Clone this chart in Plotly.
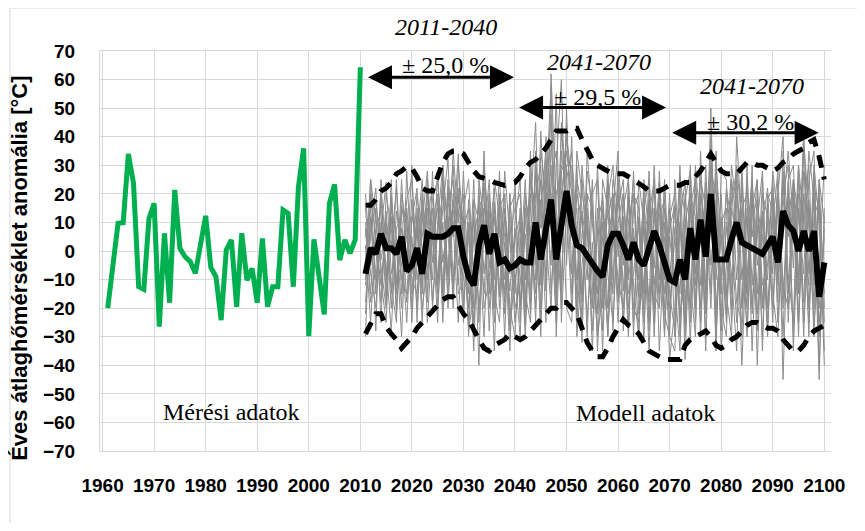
import plotly.graph_objects as go

# ---------------- data ----------------
obs_years = list(range(1961, 2011))
obs_values = [-20, -5, 9.7, 9.9, 34, 23.7, -12.5, -13.4, 11.4, 16.7,
              -26.5, 6.2, -18.1, 21.4, 0.9, -2, -3.7, -7.8, 2, 12.3,
              -5.8, -9, -24.2, 0.4, 3.9, -19.5, 6.2, -10.2, -6.1, -18.1,
              4.4, -19.5, -12.5, -12.5, 14.4, 13.2, -12.5, 22.5, 35.9, -29.8,
              4.1, -8, -22.2, 16.7, 23.3, -3.2, 3.9, -0.8, 3.9, 64.3]

model_years = list(range(2011, 2101))

model_mean = [-8, 1, -1, 6, 1, 1, -1, 5, -7, -5,
              1, -8, 6, 5, 5, 5, 6, 8, 8, -2,
              -9, -12, 2, 9, -1, 6, -4, -3, -6, -5,
              -3, -4, -4, 10, -3, 7, 18, -3, 9, 21,
              9, 2, 1, -2, -4, -7, -9, 2, 6, 6,
              2, -3, 3, -3, -5, 1, 7, 2, -4, -10,
              -11, -3, -10, 8, -3, 11, -2, 20, -3, -3,
              -3, 4, 10, 3, 2, 1, 0, -1, 2, 5,
              -4, 14, 9, 7, 0, 7, 0, 7, -16, -4]

model_upper = [16, 16, 18, 21, 22, 24, 27, 28, 29.5, 29,
               26, 22, 21, 21, 26, 31, 34, 35, 35, 34,
               31, 28, 26, 25.5, 25, 24, 23.5, 23, 23.5, 24,
               26, 29, 31, 32, 34, 36, 39, 42, 42, 42,
               43, 43, 39, 35, 32, 30, 29, 28, 27, 27,
               27, 26, 25, 24, 22.5, 21, 21, 21, 22, 23,
               23, 23, 24, 24, 26, 28, 31, 34, 31, 28,
               27, 27, 27, 29, 31, 31, 30, 30, 29, 28,
               29, 31, 32, 34, 35, 36, 38, 39, 33, 25]

model_lower = [-29, -25, -22, -22, -26.5, -29, -31, -34, -32, -30,
               -27, -25, -23, -21, -19, -17, -16, -16, -19, -22,
               -24, -28, -31, -34, -35, -33, -32, -31, -29, -30,
               -31, -30, -28, -26, -24, -22, -20, -20, -18, -18,
               -20, -22, -27, -32, -35, -37, -37, -34, -30, -27,
               -24, -26, -27, -29, -32, -35, -36, -37, -38, -38,
               -38, -38, -33, -31, -30, -29, -28, -30, -33, -34,
               -33, -31, -30, -28, -26, -25, -25, -26, -27, -27,
               -28, -31, -33, -35, -35, -33, -30, -28, -27, -26]

member_01 = [-12, 5, 18, -3, 9, -20, 14, 2, -25, 11,
             22, -8, 15, 4, -12, 26, 8, 30, -5, 12,
             -28, -15, 10, 24, -6, 17, -20, 3, -14, 8,
             -18, 6, -22, 35, -9, 20, 58, -12, 15, 40,
             25, -10, 14, -24, 3, -30, -15, 18, 30, -2,
             12, -20, 8, -16, 21, -28, 15, 4, -22, -30,
             -35, 10, -26, 25, -8, 30, -14, 50, -20, 6,
             -25, 18, 28, -10, 12, -22, 9, -30, 20, 14,
             -18, 35, 5, 22, -12, 43, -8, 20, -40, 12]
member_02 = [8, -18, -6, 20, -14, 12, -22, 16, 4, -10,
             -15, 10, 28, -4, 18, -12, 22, 5, 34, -18,
             6, -35, 22, -8, 14, -25, 9, -18, 20, -12,
             10, -26, 30, -5, 25, -14, 38, 12, -20, 50,
             -8, 30, -18, 10, -28, 8, -35, 22, -10, 25,
             -14, 18, -25, 12, -32, 20, -6, 24, -15, 8,
             16, -30, 5, -20, 28, -12, 24, -5, 18, -28,
             10, -8, -35, 26, -15, 20, -22, 14, -10, 28,
             12, -30, 24, -6, 30, -25, 18, -12, 25, -20]
member_03 = [-22, 12, -10, 6, 24, -8, 2, -30, 15, -5,
             10, -20, -6, 18, 25, -4, 12, -15, 20, 3,
             -10, 14, -40, 30, 5, 22, -16, 12, -28, -8,
             -30, 18, 8, -15, 42, 5, -20, 30, 60, -5,
             40, -25, 6, 20, -12, -22, 10, -30, 15, 35,
             -28, 25, -12, -30, 14, 6, 22, -20, 10, -38,
             -20, 22, -38, 15, -25, 20, 8, 35, -30, 12,
             -15, -30, 40, 8, -20, 24, -5, 12, -28, 18,
             -8, 20, 30, -35, 15, -18, 25, 35, -30, 8]
member_04 = [2, -25, 8, 14, -18, 20, -12, 25, -8, 18,
             -10, 5, 20, -18, 10, 30, -20, 14, 6, -25,
             18, -8, 5, -30, 20, -10, 28, -22, 6, 15,
             20, -10, 26, 12, -30, 32, 10, -25, 35, 18,
             12, 8, -32, 28, 16, -15, 20, -8, -25, 10,
             20, -8, 28, -22, -10, 16, -30, 12, 18, -15,
             -28, 26, 12, -32, 10, 5, -22, 28, 20, -15,
             22, 10, -18, -25, 30, -12, 20, -20, 15, -8,
             25, -12, -20, 18, -30, 28, 10, -25, -5, 30]
member_05 = [-30, 20, 4, -12, 10, 2, 22, -15, 12, -20,
             8, -25, 12, 22, -10, 15, 32, -10, 18, 10,
             -20, 5, 15, 20, -28, 12, -5, 20, -20, -30,
             5, -30, 15, 45, -12, 25, 20, -8, 42, 28,
             -15, 20, 10, -10, 25, -35, 5, 12, 20, -18,
             8, -30, 15, 20, -25, 12, 25, -35, 5, -20,
             5, -15, 20, -10, -30, 35, -20, 15, 25, -35,
             -5, 30, 15, -40, 5, 25, -28, 10, 22, -15,
             -30, 15, 35, 10, -22, 20, -30, 28, -25, -10]
member_06 = [15, -8, -20, 10, -5, -28, 8, 12, -18, 5,
             -20, 18, -15, 10, 20, -25, 15, 25, -15, -10,
             10, -25, 8, 15, 10, -35, 18, -10, 12, -20,
             -12, 15, -18, 28, 8, 15, 48, -30, 20, 35,
             20, -22, 25, -5, -20, 15, -28, 25, 10, -10,
             -20, 10, 20, -15, 8, -35, 10, 18, -28, 5,
             -12, -35, 18, 28, -18, 15, -30, 40, -10, 20,
             -22, 15, 5, 20, -30, 12, 18, -12, -5, 25,
             -12, 28, -15, 25, 12, -8, 35, 18, -45, 15]
member_07 = [-5, 25, -15, 18, 5, -12, -25, 20, 8, -15,
             12, -12, 25, -20, 8, 20, -8, 35, 10, 20,
             -30, 12, -20, 5, 25, -15, -25, 15, -8, 25,
             -25, 20, 5, -20, 18, -25, 62, 15, -10, 30,
             30, -30, -5, 15, -35, 10, 18, -20, 25, 15,
             25, -15, -8, 10, -20, 28, -12, 5, -30, 12,
             20, -22, -10, 20, 12, -25, 15, 25, -25, 10,
             15, -25, 30, 10, -15, 30, -40, 20, 12, -25,
             20, 40, -25, 12, 20, -30, 15, -10, -20, 5]
member_08 = [10, -15, 15, -25, 20, 8, -10, -5, 18, 25,
             -5, 20, -25, 5, 15, -15, 25, -20, 30, 8,
             15, -20, -10, 35, -15, 25, 12, -30, 20, -15,
             15, -15, -25, 20, 30, -10, 25, 35, -15, 45,
             5, 15, -25, 35, 10, -10, -15, 30, -28, 20,
             -5, 20, -30, 25, 10, -18, 30, -15, 15, -25,
             8, 15, -30, 5, 20, -20, 30, -15, 35, -20,
             -30, 25, -10, 15, 20, -35, 10, 28, -20, 10,
             28, -45, 15, 20, -15, 35, -20, 12, 18, -35]
member_09 = [-18, 8, 22, -10, -25, 15, 5, -20, 28, -8,
             20, 2, -18, 28, -20, 10, -15, 18, -12, 28,
             -15, 25, -25, 15, 8, -20, 20, 5, -35, 10,
             25, -20, 35, -10, 15, 35, -15, 20, 28, -20,
             -25, 25, 15, -30, 20, 25, -20, 5, 15, -25,
             15, 25, -20, -25, 25, 5, -20, 28, -10, 20,
             -30, 10, 25, -25, 30, 8, -15, 20, -35, 28,
             25, -20, 20, 5, -28, 15, 25, -35, 18, 22,
             -25, 10, 20, -30, 25, 5, -12, 30, 10, -25]
member_10 = [5, 15, -28, 25, -10, 18, -15, 8, -5, 30,
             -25, 15, 10, -10, 28, -20, 20, 10, -25, 15,
             25, -10, 18, -20, -10, 15, -15, 28, 5, -25,
             -5, 25, -15, 30, -25, 12, 30, -20, 45, 10,
             15, -15, 30, 5, -18, 30, -10, -25, 20, 5,
             -25, 5, 25, -10, 20, -25, 15, -10, 22, -30,
             25, -5, -25, 30, -12, 20, -35, 30, 10, -25,
             10, -15, 25, -20, 25, -20, 15, 5, -30, 20,
             -10, 25, -8, -25, 30, 10, -25, 22, 15, -40]
member_11 = [20, -5, 5, -18, 14, -15, 25, -10, -15, 12,
             5, 25, -10, 15, -15, 25, -10, 20, 15, -20,
             8, -30, 25, 10, -20, 5, 10, -15, 15, 20,
             -20, 10, 20, -25, 35, 20, -5, 55, -25, 15,
             -20, 35, 20, 10, -5, -28, 25, 15, -15, 30,
             10, -25, 20, 15, -15, 18, -25, 20, -20, 15,
             -10, 30, -20, 15, 25, -30, 20, 10, 15, -10,
             20, 5, -25, 30, -10, 20, -15, 25, -25, 5,
             15, -20, 25, 30, -10, 38, 15, -30, 20, -15]
member_12 = [-10, 25, 10, -5, -20, 25, -20, 15, 10, -25,
             15, -15, 20, 8, -25, 30, 5, -12, 22, 5,
             -25, 18, 10, -15, 20, -20, 15, 20, -25, 5,
             12, -25, 25, 15, -20, 40, 15, -15, 30, 25,
             35, 5, -15, 20, 15, -20, 15, -30, 5, -15,
             20, -10, 5, -30, 15, 25, -15, -20, 25, -10,
             15, -25, 10, 20, -20, 25, 15, -20, 30, 5,
             -15, 25, 10, -30, 15, 5, 25, -20, 10, -20,
             20, -15, 10, 25, -25, 15, 30, -20, 25, 10]

members = [member_01, member_02, member_03, member_04, member_05, member_06,
           member_07, member_08, member_09, member_10, member_11, member_12]

x_tick_values = list(range(1960, 2101, 10))
x_tick_labels = [str(v) for v in x_tick_values]
y_tick_values = list(range(-70, 71, 10))

# ---------------- figure ----------------
TICK_FONT = dict(family="Liberation Sans, Arial", size=19, color="black", weight="bold")
TITLE_FONT = dict(family="Liberation Sans, Arial", size=22, color="black", weight="bold")
SERIF = "Liberation Serif, Times New Roman, serif"

fig = go.Figure()

for m in members:
    fig.add_trace(go.Scatter(x=model_years, y=m, mode="lines",
                             line=dict(color="#8c8c8c", width=1),
                             showlegend=False, hoverinfo="skip"))

for env in (model_upper, model_lower):
    fig.add_trace(go.Scatter(x=model_years, y=env, mode="lines",
                             line=dict(color="black", width=5, dash="13px,9px"),
                             showlegend=False))

fig.add_trace(go.Scatter(x=model_years, y=model_mean, mode="lines",
                         line=dict(color="black", width=6),
                         showlegend=False))

fig.add_trace(go.Scatter(x=obs_years, y=obs_values, mode="lines",
                         line=dict(color="#00b050", width=5),
                         showlegend=False))

# period arrows
arrows = [(2011.2, 2039.8, 60.8), (2040.5, 2069.3, 50.2), (2070.2, 2098.9, 41.4)]
for x0, x1, yv in arrows:
    fig.add_annotation(x=x1, y=yv, ax=x0, ay=yv, xref="x", yref="y", axref="x", ayref="y",
                       text="", showarrow=True, arrowhead=2, arrowside="end+start",
                       arrowsize=1.6, arrowwidth=3, arrowcolor="black")

labels = [
    ("± 25,0 %", 2026.5, 65.1),
    ("<i>2041-2070</i>", 2056.2, 66.0),
    ("± 29,5 %", 2056.0, 54.0),
    ("<i>2041-2070</i>", 2085.9, 57.9),
    ("± 30,2 %", 2085.7, 45.3),
    ("Mérési adatok", 1985.0, -56.4),
    ("Modell adatok", 2065.3, -56.7),
]
for txt, xv, yv in labels:
    fig.add_annotation(x=xv, y=yv, xref="x", yref="y", text=txt, showarrow=False,
                       font=dict(family=SERIF, size=24, color="black"),
                       xanchor="center", yanchor="middle")

# period label above the plot area (outside the y range -> paper y)
fig.add_annotation(x=2026.7, y=(78.4 + 70) / 140, xref="x", yref="paper",
                   text="<i>2011-2040</i>", showarrow=False,
                   font=dict(family=SERIF, size=24, color="black"),
                   xanchor="center", yanchor="middle")

# y-axis title
fig.add_annotation(x=-0.111, y=0.4575, xref="paper", yref="paper",
                   text="Éves átlaghőmérséklet anomália [°C]", textangle=-90,
                   showarrow=False, xanchor="center", yanchor="middle",
                   font=TITLE_FONT)

# chart border
fig.add_shape(type="rect", xref="paper", yref="paper",
              x0=-0.1232, y0=-0.21, x1=1.05, y1=1.1075,
              line=dict(color="#d9d9d9", width=1), fillcolor="rgba(0,0,0,0)")

fig.update_layout(
    width=849, height=515,
    margin=dict(l=92, r=18.5, t=43, b=72),
    paper_bgcolor="white", plot_bgcolor="white",
    showlegend=False,
    xaxis=dict(range=[1959.5, 2101.3], tickmode="array", tickvals=x_tick_values,
               ticktext=x_tick_labels, showgrid=True, gridcolor="#d9d9d9", gridwidth=1,
               zeroline=False, showline=True, linecolor="#d9d9d9", mirror=True,
               ticks="", tickfont=TICK_FONT, ticklabelstandoff=17),
    yaxis=dict(range=[-70, 70], tickmode="array", tickvals=y_tick_values,
               showgrid=True, gridcolor="#d9d9d9", gridwidth=1,
               zeroline=False, showline=True, linecolor="#d9d9d9",
               ticks="", tickfont=TICK_FONT, ticklabelstandoff=20),
)

fig.write_html("out.html")
